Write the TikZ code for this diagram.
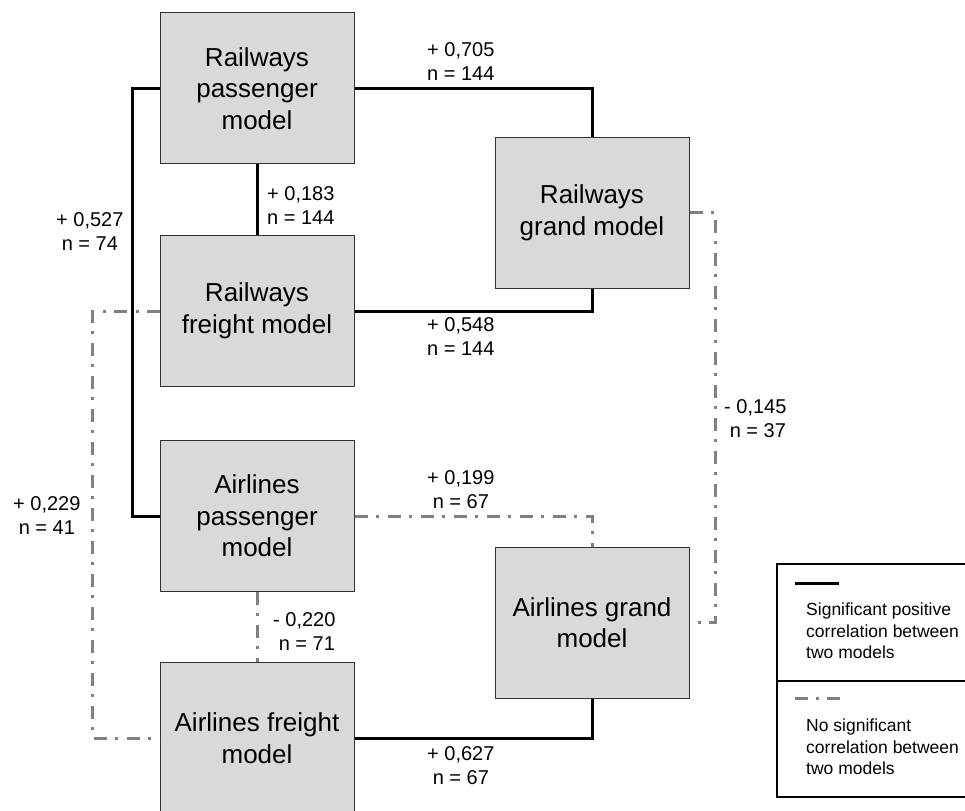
\documentclass[tikz,border=0pt]{standalone}
\usepackage{fontspec}
\setmainfont{Liberation Sans}
\begin{document}
\begin{tikzpicture}[x=1pt,y=-1pt,
  model/.style={draw=black!80, line width=1pt, fill=black!15, minimum width=194pt, minimum height=151pt, inner sep=0pt, align=center, font=\fontsize{26pt}{31.5pt}\selectfont},
  lbl/.style={inner sep=0pt, anchor=west, align=left, font=\fontsize{20pt}{24pt}\selectfont},
  legtxt/.style={inner sep=0pt, anchor=west, align=left, font=\fontsize{17.5pt}{21.5pt}\selectfont},
  sig/.style={draw=black, line width=3pt},
  nosig/.style={draw=black!50, line width=3pt, dash pattern=on 13pt off 8pt on 3pt off 9pt}
]
\useasboundingbox (0,0) rectangle (965,810);
% connectors first, boxes drawn on top
\path (257,88.5) coordinate (rpc) (257,311) coordinate (rfc) (592,213) coordinate (rgc)
      (257,516) coordinate (apc) (592,622.5) coordinate (agc) (257,738) coordinate (afc);
% models
\node[model] (rp) at (rpc) {Railways\\passenger\\model};
\node[model] (rf) at (rfc) {Railways\\freight model};
\node[model] (rg) at (rgc) {Railways\\grand model};
\node[model] (ap) at (apc) {Airlines\\passenger\\model};
\node[model] (ag) at (agc) {Airlines grand\\model};
\node[model] (af) at (afc) {Airlines freight\\model};
% significant connectors
\draw[sig] (rp.east) -| (rg.north);
\draw[sig] (rp.south) -- (rf.north);
\draw[sig] (rp.west) -- ++(-27,0) |- (ap.west);
\draw[sig] (rf.east) -| (rg.south);
\draw[sig] (af.east) -| (ag.south);
% non-significant connectors
\draw[nosig] (rf.west) -- ++(-67,0) |- (af.west);
\draw[nosig] (ap.south) -- (af.north);
\draw[nosig] (ap.east) -| (ag.north);
\draw[nosig] (rg.east) -- ++(26,0) |- (ag.east);
% labels
\node[lbl] (l705) at (427,61.5) {+ 0,705\\n = 144};
\node[lbl] (l183) at (267,205.5) {+ 0,183\\n = 144};
\node[lbl] (l527) at (56,231.5) {+ 0,527\\\ n = 74};
\node[lbl] (l548) at (427,337) {+ 0,548\\n = 144};
\node[lbl] (l229) at (13,515.5) {+ 0,229\\\ n = 41};
\node[lbl] (l199) at (427,490) {+ 0,199\\\ n = 67};
\node[lbl] (l220) at (273,632) {- 0,220\\\ n = 71};
\node[lbl] (l145) at (724,419) {- 0,145\\\ n = 37};
\node[lbl] (l627) at (427,766) {+ 0,627\\\ n = 67};
% legend
\draw[black, line width=1.3pt] (777,564) rectangle (968,797);
\draw[black, line width=1.3pt] (777,681) -- (968,681);
\coordinate (s1) at (795,583);
\coordinate (s2) at (839,583);
\draw[sig] (s1) -- (s2);
\coordinate (d1) at (795,698);
\coordinate (d2) at (840,698);
\draw[draw=black!50, line width=3pt, dash pattern=on 13pt off 8pt on 3pt off 8pt] (d1) -- (d2);
\node[legtxt] (leg1) at (806,631) {Significant positive\\correlation between\\two models};
\node[legtxt] (leg2) at (806,747) {No significant\\correlation between\\two models};
\end{tikzpicture}
\end{document}
